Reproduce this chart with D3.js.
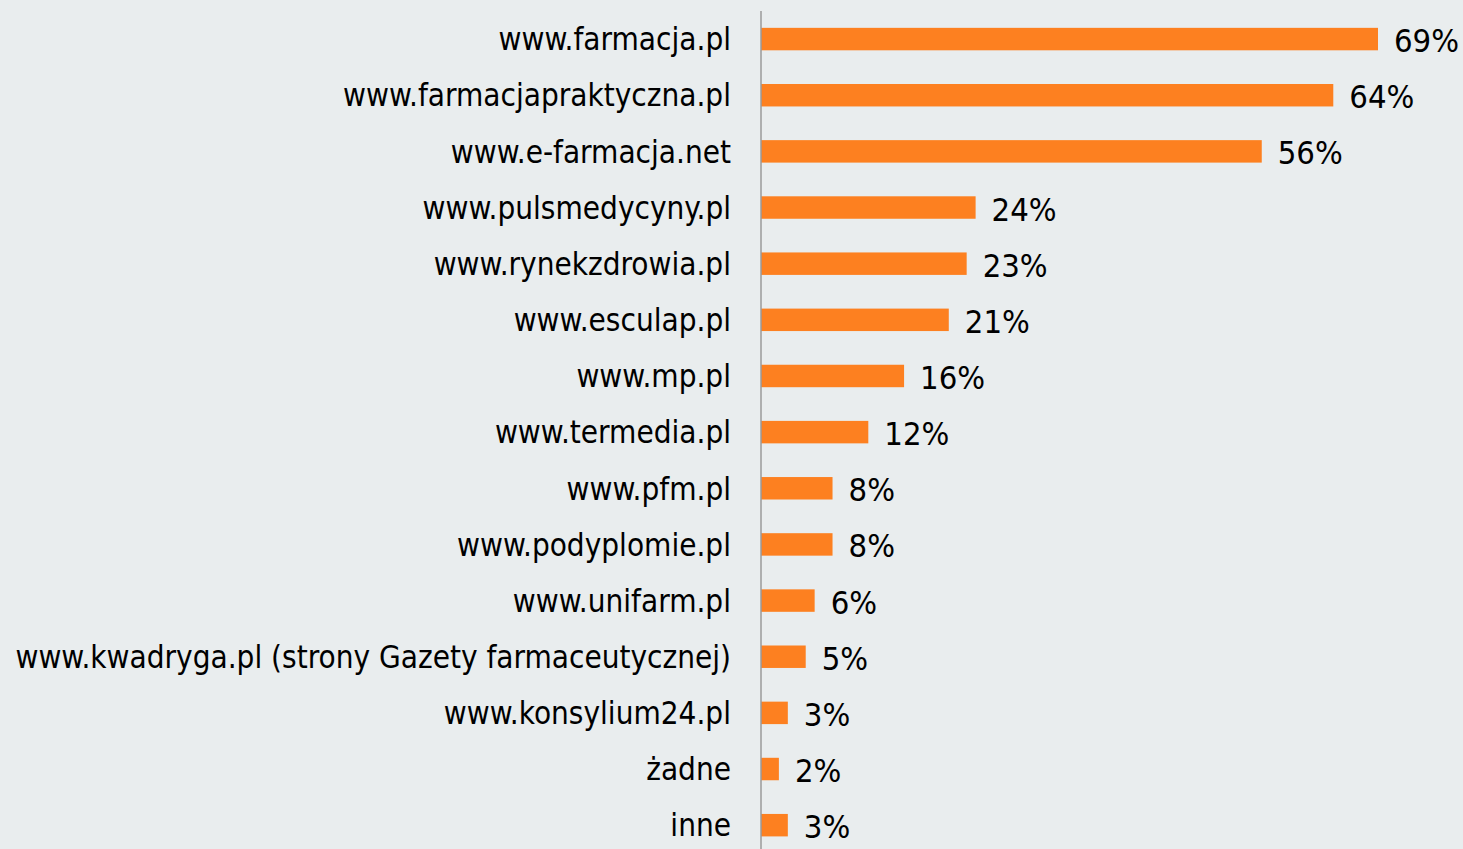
<!DOCTYPE html>
<html>
<head>
<meta charset="utf-8">
<script src="https://cdn.jsdelivr.net/npm/d3@7/dist/d3.min.js"></script>
<style>
  html, body { margin: 0; padding: 0; background: #e9edee; }
  svg { display: block; }
  .label, .value { font-family: 'DejaVu Sans Condensed', 'DejaVu Sans', sans-serif; fill: #000; }
</style>
</head>
<body>
<div class="chart"></div>
<script>
'use strict';

var sites = [
  'www.farmacja.pl',
  'www.farmacjapraktyczna.pl',
  'www.e-farmacja.net',
  'www.pulsmedycyny.pl',
  'www.rynekzdrowia.pl',
  'www.esculap.pl',
  'www.mp.pl',
  'www.termedia.pl',
  'www.pfm.pl',
  'www.podyplomie.pl',
  'www.unifarm.pl',
  'www.kwadryga.pl (strony Gazety farmaceutycznej)',
  'www.konsylium24.pl',
  'żadne',
  'inne'
];
var shares = [69, 64, 56, 24, 23, 21, 16, 12, 8, 8, 6, 5, 3, 2, 3];

var width = 1463;
var height = 849;
var axisX = 761;

var x = d3.scaleLinear().domain([0, 69]).range([axisX, 1378]);
var y = d3.scaleBand().domain(sites).range([11, 11 + 56.15 * sites.length]).paddingInner(0.6).paddingOuter(0.3);

var svg = d3.select('.chart').append('svg').attr('width', width).attr('height', height);

svg.append('rect').attr('width', width).attr('height', height).attr('fill', '#e9edee');

svg.selectAll('rect.bar').data(sites).enter().append('rect')
  .attr('class', 'bar')
  .attr('x', x(0))
  .attr('y', function (d) { return y(d); })
  .attr('width', function (d, i) { return x(shares[i]) - x(0); })
  .attr('height', y.bandwidth())
  .attr('fill', '#fd8020');

svg.append('line')
  .attr('x1', axisX).attr('x2', axisX)
  .attr('y1', 11).attr('y2', height)
  .attr('stroke', '#9a9a9a').attr('stroke-width', 1.5);

svg.selectAll('text.label').data(sites).enter().append('text')
  .attr('class', 'label')
  .attr('x', 731)
  .attr('y', function (d) { return y(d) + y.bandwidth() / 2; })
  .attr('dy', '0.36em')
  .attr('text-anchor', 'end')
  .style('font-size', '31.2px')
  .text(function (d) { return d; });

svg.selectAll('text.value').data(sites).enter().append('text')
  .attr('class', 'value')
  .attr('x', function (d, i) { return x(shares[i]) + 16; })
  .attr('y', function (d) { return y(d) + y.bandwidth() / 2; })
  .attr('dy', '0.4em')
  .style('font-size', '32.5px')
  .text(function (d, i) { return shares[i] + '%'; });
</script>
</body>
</html>
